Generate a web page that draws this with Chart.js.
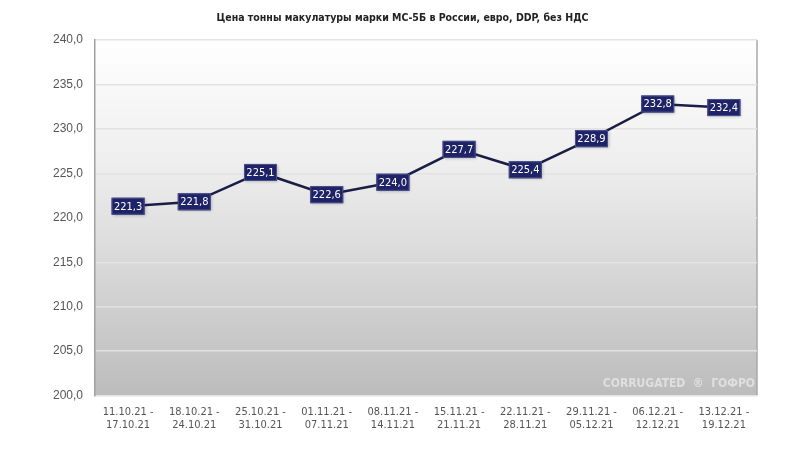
<!DOCTYPE html>
<html>
<head>
<meta charset="utf-8">
<script src="https://cdn.jsdelivr.net/npm/chart.js@4/dist/chart.umd.min.js"></script>
<style>
  html, body { margin: 0; padding: 0; background: #fff; }
  #wrap { width: 805px; height: 455px; }
</style>
</head>
<body>
<div id="wrap"><canvas id="grafico" width="805" height="455"></canvas></div>
<script>
// Данные графика
var titulo = "Цена тонны макулатуры марки МС-5Б в России, евро, DDP, без НДС";
var periodos = [
    ["11.10.21 -", "17.10.21"],
    ["18.10.21 -", "24.10.21"],
    ["25.10.21 -", "31.10.21"],
    ["01.11.21 -", "07.11.21"],
    ["08.11.21 -", "14.11.21"],
    ["15.11.21 -", "21.11.21"],
    ["22.11.21 -", "28.11.21"],
    ["29.11.21 -", "05.12.21"],
    ["06.12.21 -", "12.12.21"],
    ["13.12.21 -", "19.12.21"]
];
var precos = [221.3, 221.8, 225.1, 222.6, 224.0, 227.7, 225.4, 228.9, 232.8, 232.4];
var yMin = 200;
var yMax = 240;
var yStep = 5;

function virgula(v) {
    return v.toFixed(1).replace(".", ",");
}

// Фон области графика (градиент) + заголовок
var fundo = {
    id: "fundo",
    beforeDraw: function(chart) {
        var ctx = chart.ctx, a = chart.chartArea;
        var g = ctx.createLinearGradient(0, a.top, 0, a.bottom);
        g.addColorStop(0, "#ffffff");
        g.addColorStop(0.35, "#eeeeee");
        g.addColorStop(1, "#bcbcbc");
        ctx.save();
        ctx.fillStyle = g;
        ctx.fillRect(a.left, a.top, a.right - a.left, a.bottom - a.top);
        ctx.strokeStyle = "#a8a8a8";
        ctx.lineWidth = 1.5;
        ctx.beginPath();
        ctx.moveTo(a.right, a.top);
        ctx.lineTo(a.right, a.bottom);
        ctx.stroke();
        // заголовок по центру холста
        ctx.fillStyle = "#222";
        ctx.font = "bold 10.5px 'DejaVu Sans Condensed', sans-serif";
        ctx.textAlign = "center";
        ctx.textBaseline = "middle";
        ctx.fillText(titulo, chart.width / 2, 18);
        ctx.restore();
    },
    afterDatasetsDraw: function(chart) {
        var ctx = chart.ctx, a = chart.chartArea;
        ctx.save();
        ctx.fillStyle = "rgba(255,255,255,0.5)";
        ctx.font = "bold 12px 'DejaVu Sans Condensed', sans-serif";
        ctx.textAlign = "right";
        ctx.textBaseline = "middle";
        ctx.fillText("CORRUGATED  \u00AE  ГОФРО", a.right - 2, a.bottom - 12);
        ctx.restore();
    }
};

// Подписи значений в тёмных прямоугольниках
var rotulos = {
    id: "rotulos",
    afterDatasetsDraw: function(chart) {
        var ctx = chart.ctx;
        var meta = chart.getDatasetMeta(0);
        ctx.save();
        ctx.font = "11px 'DejaVu Sans Condensed', sans-serif";
        ctx.textAlign = "center";
        ctx.textBaseline = "middle";
        meta.data.forEach(function(p, i) {
            var txt = virgula(precos[i]);
            var w = 33, h = 17;
            ctx.shadowColor = "rgba(0,0,0,0.25)";
            ctx.shadowBlur = 3;
            ctx.shadowOffsetX = 1;
            ctx.shadowOffsetY = 1;
            ctx.fillStyle = "#1e2266";
            ctx.fillRect(p.x - w / 2, p.y - h / 2, w, h);
            ctx.shadowColor = "transparent";
            ctx.strokeStyle = "#4a4f8a";
            ctx.lineWidth = 1;
            ctx.strokeRect(p.x - w / 2 + 0.5, p.y - h / 2 + 0.5, w - 1, h - 1);
            ctx.fillStyle = "#ffffff";
            ctx.fillText(txt, p.x, p.y + 0.5);
        });
        ctx.restore();
    }
};

var config = {
    type: "line",
    data: {
        labels: periodos,
        datasets: [{
            data: precos,
            borderColor: "#1b1e44",
            borderWidth: 2.5,
            pointRadius: 0,
            tension: 0,
            fill: false
        }]
    },
    options: {
        responsive: false,
        animation: false,
        layout: { padding: { top: 40, right: 48, left: 0, bottom: 21 } },
        plugins: {
            legend: { display: false },
            tooltip: { enabled: false },
            title: { display: false }
        },
        scales: {
            x: {
                offset: true,
                grid: { display: false },
                border: { display: false },
                ticks: {
                    color: "#555",
                    font: { family: "'DejaVu Sans Condensed', sans-serif", size: 11 },
                    maxRotation: 0,
                    padding: 2
                }
            },
            y: {
                min: yMin,
                max: yMax,
                afterFit: function(s) { s.width = 95; },
                grid: { color: "#e2e2e2", lineWidth: 1.5, drawTicks: false },
                border: { display: true, color: "#a0a0a0", width: 1.5 },
                ticks: {
                    stepSize: yStep,
                    color: "#555",
                    padding: 12,
                    font: { family: "'Liberation Sans', Arial, sans-serif", size: 12 },
                    callback: function(v) { return virgula(v); }
                }
            }
        }
    },
    plugins: [fundo, rotulos]
};

var grafico = new Chart(document.getElementById("grafico"), config);
</script>
</body>
</html>
